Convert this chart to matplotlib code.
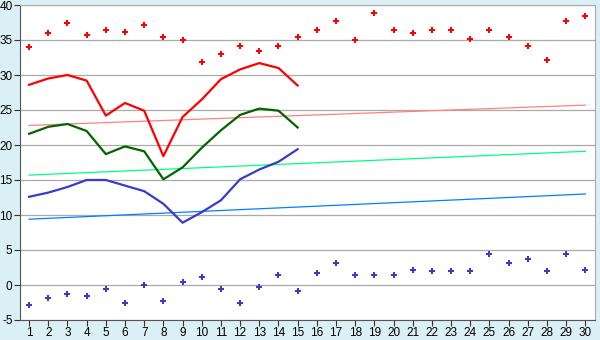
import matplotlib
matplotlib.use('Agg')
from matplotlib import pyplot as plt

plt.rcParams['font.family'] = ['Liberation Sans', 'DejaVu Sans']
plt.rcParams['axes.unicode_minus'] = False

days = list(range(1, 31))

# 各日の値
max_points = [34.0, 36.0, 37.4, 35.7, 36.5, 36.2, 37.1, 35.4, 35.0, 31.8,
              33.0, 34.1, 33.4, 34.1, 35.4, 36.5, 37.7, 35.0, 38.8, 36.4,
              36.0, 36.5, 36.4, 35.2, 36.5, 35.4, 34.2, 32.2, 37.7, 38.4]
min_points = [-2.9, -1.9, -1.3, -1.6, -0.6, -2.5, 0.0, -2.3, 0.4, 1.2,
              -0.6, -2.6, -0.3, 1.4, -0.9, 1.7, 3.1, 1.5, 1.4, 1.5,
              2.2, 2.0, 2.0, 2.0, 4.4, 3.2, 3.7, 2.0, 4.4, 2.2]
high_line = [28.6, 29.5, 30.0, 29.2, 24.2, 26.0, 24.9, 18.4, 24.0, 26.5,
             29.4, 30.8, 31.7, 31.0, 28.5]
mean_line = [21.6, 22.6, 23.0, 22.0, 18.7, 19.8, 19.1, 15.1, 16.8, 19.6,
             22.1, 24.3, 25.2, 24.9, 22.5]
low_line = [12.6, 13.2, 14.0, 15.0, 15.0, 14.2, 13.4, 11.6, 8.9, 10.4,
            12.1, 15.1, 16.5, 17.6, 19.4]
# trend lines: value at day 1 and day 30
trend_high = [22.8, 25.7]
trend_mean = [15.7, 19.1]
trend_low = [9.4, 13.0]

bg = '#daeff6'
fig = plt.figure(figsize=(6, 3.4), dpi=100, facecolor=bg)
ax = fig.add_axes([19.5 / 600, 1 - 320 / 340, 575.5 / 600, 315 / 340])
ax.set_facecolor('white')

ends = [days[0], days[-1]]
ax.plot(ends, trend_high, color='#ff8080', lw=0.9, zorder=2)
ax.plot(ends, trend_mean, color='#00ff80', lw=0.9, zorder=2)
ax.plot(ends, trend_low, color='#0080ff', lw=0.9, zorder=2)

n = len(high_line)
ax.plot(days[:n], high_line, color='#ff0000', lw=1.6, zorder=3)
ax.plot(days[:n], mean_line, color='#006400', lw=1.6, zorder=3)
ax.plot(days[:n], low_line, color='#3a3acc', lw=1.6, zorder=3)

ax.plot(days, max_points, ls='none', marker='P', ms=5, mew=0,
        color='#ff0000', zorder=4)
ax.plot(days, min_points, ls='none', marker='P', ms=5, mew=0,
        color='#3a3acc', zorder=4)

ax.set_xlim(0.5, 30.5)
ax.set_ylim(-5, 40)
ax.set_xticks(days)
ax.set_yticks(range(-5, 41, 5))
ax.yaxis.grid(True, color='#aaaaaa', lw=0.9)
ax.set_axisbelow(True)
ax.tick_params(direction='out', length=4, width=0.8, labelsize=8.5,
               colors='#333333', labelcolor='black', pad=1)
for side in ('top', 'right'):
    ax.spines[side].set_color('#aaaaaa')
for side in ('left', 'bottom'):
    ax.spines[side].set_color('#555555')

fig.savefig('out.png', dpi=100, facecolor=bg)
